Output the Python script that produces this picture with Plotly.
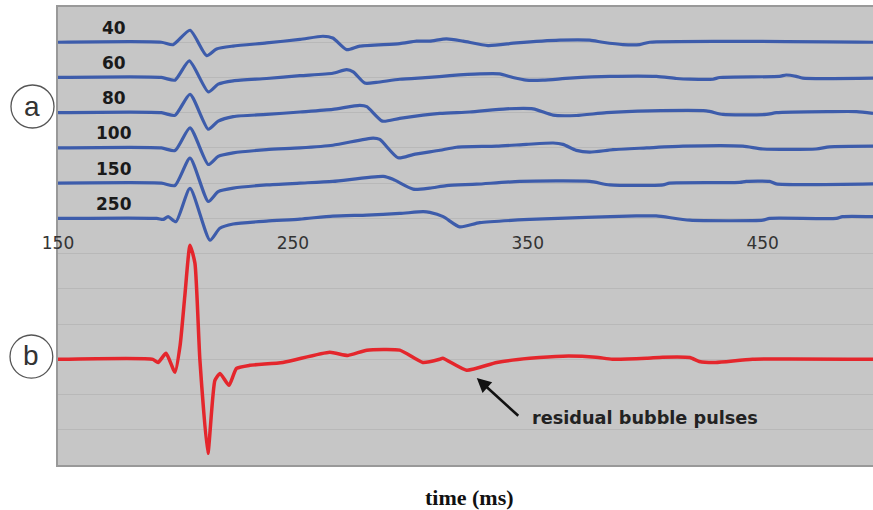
import plotly.graph_objects as go

# ---------------- data ----------------
depth_labels = ["40", "60", "80", "100", "150", "250"]
baselines = [-1, -2, -3, -4, -5, -6]          # vertical offset of each blue trace
red_baseline = -10

t_40 = [150, 194, 199, 206.2, 213.3, 217.5, 224.5, 238.8, 253, 262.8, 267, 272.9, 278.5, 295.5,
        302.6, 308.3, 315.4, 322.5, 333.1, 345.2, 363.6, 376.4, 381.9, 390.5, 397.7, 401.9, 497]
v_40 = [0, 0, -0.07, 0.34, -0.38, -0.19, -0.11, -0.02, 0.08, 0.17, 0.12, -0.21, -0.11, -0.04,
        0.03, 0.03, 0.095, 0.03, -0.095, -0.02, 0.057, 0.057, 0, -0.066, -0.066, 0, 0]

t_60 = [150, 194, 199.8, 205.9, 214, 218.2, 224.6, 238.8, 253, 267, 272.9, 275.7, 280.6, 285.6,
        295.5, 308, 316.8, 329.6, 338, 343.7, 349.4, 356.5, 367.9, 384.9, 404.8, 413.3, 419,
        428.9, 431.7, 457.2, 460, 464.3, 467.1, 497]
v_60 = [0, 0, -0.076, 0.47, -0.41, -0.19, -0.095, -0.03, 0.05, 0.12, 0.22, 0.16, -0.16, -0.14,
        -0.05, 0, 0.05, 0.1, 0.1, 0, -0.076, -0.076, -0.02, 0.03, 0.03, -0.03, -0.05,
        -0.05, 0, 0.03, 0.07, 0.03, -0.02, -0.02]

t_80 = [150, 194, 199.8, 206.2, 214, 218.2, 224.6, 238.8, 253, 267, 278.5, 281.5, 288.1, 295.5,
        312.6, 325.3, 340.9, 352.3, 360.8, 370.7, 383.5, 401.9, 426, 433.1, 451.6, 455.9, 478.5,
        490, 497]
v_80 = [0, 0, -0.076, 0.52, -0.47, -0.24, -0.11, -0.05, 0.02, 0.095, 0.21, 0.17, -0.24, -0.16,
        -0.02, 0.02, 0.11, 0.11, -0.07, -0.08, 0, 0.05, 0.05, -0.05, -0.05, 0, 0.03,
        0.03, -0.02]

t_100 = [150, 194, 199.8, 206.2, 214, 218.2, 224.6, 238.8, 253, 267, 284.2, 287, 294.8, 301.2,
         312.6, 319.7, 336.7, 349.4, 360.8, 365, 370.7, 376.4, 386.3, 400.6, 416.1, 441.6, 450.1,
         472.8, 478.5, 497]
v_100 = [0, 0, -0.076, 0.57, -0.47, -0.24, -0.14, -0.05, 0, 0.076, 0.28, 0.24, -0.28, -0.19,
         -0.066, 0.02, 0.05, 0.1, 0.14, 0.1, -0.07, -0.12, -0.05, 0, 0.05, 0.05, -0.03,
         -0.03, 0.03, 0.05]

t_150 = [150, 194, 199.8, 206.2, 214, 218.2, 224.6, 238.8, 253, 267, 288.5, 292.6, 301.2, 308.3,
         315.4, 328.2, 346.6, 376.4, 384.9, 407.6, 410.4, 440.2, 443, 453, 455.8, 497]
v_150 = [0, 0, -0.066, 0.71, -0.52, -0.24, -0.14, -0.05, 0, 0.05, 0.19, 0.11, -0.17, -0.14,
         -0.07, -0.03, 0.05, 0.05, -0.05, -0.05, 0, 0.02, 0.05, 0.05, -0.02, -0.02]

t_250 = [150, 192, 194.8, 196.9, 200.2, 206.2, 214.7, 218.9, 224.6, 238.8, 253, 267, 281.5,
         295.5, 305.5, 308.3, 314, 321, 329.6, 350.9, 374.9, 396.2, 404.7, 419, 450.1, 453,
         481.4, 484, 497]
v_250 = [0, 0, -0.03, 0.05, -0.095, 0.85, -0.62, -0.28, -0.16, -0.076, -0.02, 0.066, 0.095,
         0.14, 0.19, 0.17, 0.05, -0.24, -0.12, -0.03, 0.03, 0.07, 0.07, -0.05, -0.05, 0,
         0, 0.05, 0.05]

t_sum = [150, 190.4, 192.6, 196, 199.8, 202, 204, 206.2, 208.3, 210.4, 213.8, 216.8, 219, 222.8,
         226, 231.7, 245.7, 265.7, 273.4, 281.5, 295.5, 305.3, 312.5, 313.8, 324, 336.8, 350.9,
         365, 379, 386, 400.6, 407.4, 419, 423, 430, 445.7, 497]
v_sum = [0, 0, -0.09, 0.17, -0.37, 0.4, 1.8, 3.24, 2.73, 0, -2.67, -0.6, -0.4, -0.74,
         -0.26, -0.17, -0.09, 0.2, 0.11, 0.26, 0.26, -0.09, 0, 0.03, -0.31, -0.09, 0.03,
         0.09, 0.06, 0, 0.03, 0.06, 0.05, -0.06, -0.09, 0, 0]

x_ticks = [150, 250, 350, 450]

blue_t = [t_40, t_60, t_80, t_100, t_150, t_250]
blue_v = [v_40, v_60, v_80, v_100, v_150, v_250]

BLUE = "#3d5cab"
RED = "#e4262c"

fig = go.Figure()
for name, b, tt, vv in zip(depth_labels, baselines, blue_t, blue_v):
    fig.add_trace(go.Scatter(
        x=tt, y=[b + v for v in vv], mode="lines", name=name,
        line=dict(color=BLUE, width=3.2, shape="spline", smoothing=0.6),
        hoverinfo="skip", showlegend=False))

fig.add_trace(go.Scatter(
    x=t_sum, y=[red_baseline + v for v in v_sum], mode="lines", name="sum",
    xaxis="x2",
    line=dict(color=RED, width=3.5, shape="spline", smoothing=0.5),
    hoverinfo="skip", showlegend=False))

annotations = []
for name, b in zip(depth_labels, baselines):
    annotations.append(dict(
        x=174, y=b + 0.41, xref="x", yref="y", text=f"<b>{name}</b>", showarrow=False,
        xanchor="center", yanchor="middle",
        font=dict(family="DejaVu Sans", size=17, color="#1a1a1a")))

# arrow pointing at the residual bubble pulse
annotations.append(dict(
    x=328.3, y=-10.53, xref="x", yref="y", ax=346.6, ay=-11.64, axref="x", ayref="y",
    text="", showarrow=True, arrowhead=2, arrowsize=1.1, arrowwidth=2.6, arrowcolor="#111111"))
annotations.append(dict(
    x=400, y=-11.67, xref="x", yref="y", text="<b>residual bubble pulses</b>", showarrow=False,
    xanchor="center", yanchor="middle",
    font=dict(family="DejaVu Sans", size=17.7, color="#222222")))

# panel letters
annotations.append(dict(x=-0.0313, y=0.782, xref="paper", yref="paper", text="a", showarrow=False,
                        xanchor="center", yanchor="middle",
                        font=dict(family="Liberation Sans", size=28, color="#333333")))
annotations.append(dict(x=-0.0326, y=0.238, xref="paper", yref="paper", text="b", showarrow=False,
                        xanchor="center", yanchor="middle",
                        font=dict(family="Liberation Sans", size=28, color="#333333")))
# axis title
annotations.append(dict(x=0.505, y=-0.07, xref="paper", yref="paper", text="<b>time (ms)</b>",
                        showarrow=False, xanchor="center", yanchor="middle",
                        font=dict(family="Liberation Serif", size=22, color="#111111")))

shapes = [
    dict(type="circle", xref="paper", yref="paper", x0=-0.0577, x1=-0.0049, y0=0.7358, y1=0.8297,
         line=dict(color="#555555", width=1.3), fillcolor="white", layer="below"),
    dict(type="circle", xref="paper", yref="paper", x0=-0.0589, x1=-0.0064, y0=0.1895, y1=0.2838,
         line=dict(color="#555555", width=1.3), fillcolor="white", layer="below"),
]

fig.update_layout(
    width=873, height=510,
    margin=dict(l=58, r=0, t=7, b=45),
    paper_bgcolor="white", plot_bgcolor="#c6c6c6",
    xaxis=dict(range=[150, 497], anchor="free", position=0.511, tickvals=x_ticks,
               showgrid=False, zeroline=False, showline=False, ticks="",
               tickfont=dict(family="DejaVu Sans", size=17, color="#333333")),
    xaxis2=dict(range=[150, 497], matches="x", overlaying="x", anchor="y", side="bottom",
                showline=True, mirror=True, linecolor="#999999", linewidth=2,
                showticklabels=False, showgrid=False, zeroline=False, ticks=""),
    yaxis=dict(range=[-13, 0], dtick=1, tick0=0, showgrid=True, gridcolor="#b8b8b8", gridwidth=1,
               showticklabels=False, zeroline=False, showline=True, linecolor="#999999",
               linewidth=2, ticks=""),
    annotations=annotations, shapes=shapes,
)

fig.write_html("out.html", config={"displayModeBar": False},
               post_script="document.body.style.margin='0';document.body.style.overflow='hidden';")
